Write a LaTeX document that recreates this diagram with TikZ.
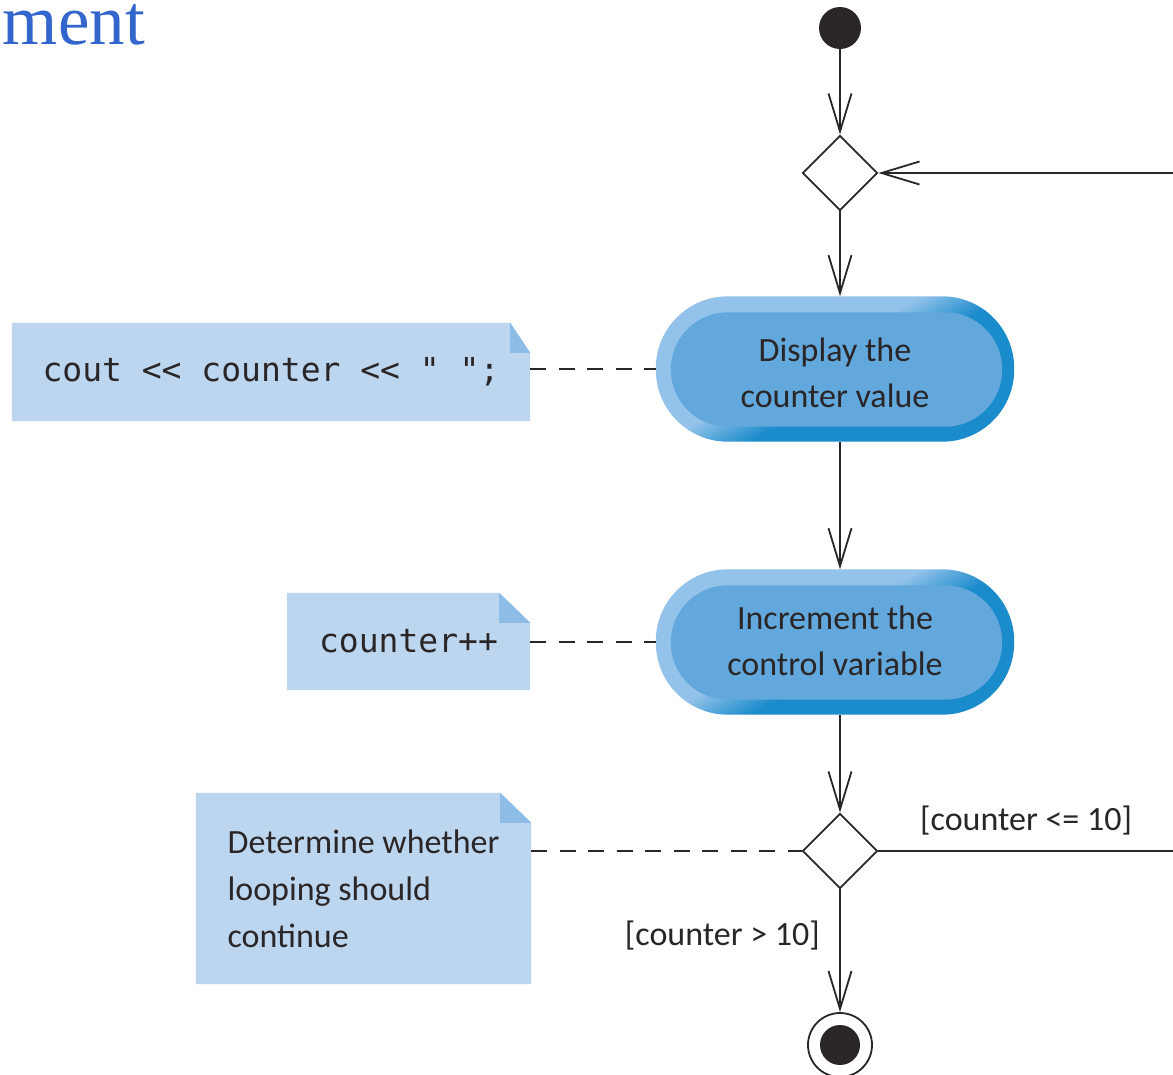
\documentclass[tikz,border=0pt]{standalone}
\usepackage{fontspec}
\setsansfont{Carlito}
\setmonofont{DejaVu Sans Mono}
\newfontfamily\headfont{Liberation Serif}
\usetikzlibrary{arrows.meta,shapes.geometric}

\definecolor{inkcol}{HTML}{2A2627}
\definecolor{notefill}{HTML}{BCD6EF}
\definecolor{notefold}{HTML}{8DBDE7}
\definecolor{pillfill}{HTML}{62A8DC}
\definecolor{ringlight}{HTML}{93C3EA}
\definecolor{ringdark}{HTML}{1A8BCB}
\definecolor{headblue}{HTML}{3366CC}

% two-tone rim of the activity pills: light upper left, dark lower right
\pgfdeclarehorizontalshading{ringshade}{100bp}{color(0bp)=(ringlight); color(47bp)=(ringlight); color(53bp)=(ringdark); color(100bp)=(ringdark)}

\pgfdeclarelayer{background}
\pgfsetlayers{background,main}

\tikzset{
  flow/.style={draw=inkcol, line width=1.8pt,
    -{Straight Barb[length=38pt,width=23pt,line width=1.8pt]}},
  notelink/.style={draw=inkcol, line width=1.8pt, dash pattern=on 16pt off 12.5pt},
  merge/.style={diamond, draw=inkcol, line width=1.8pt, fill=white,
    minimum width=75pt, minimum height=75pt, inner sep=0pt},
  initial/.style={circle, fill=inkcol, minimum size=42pt, inner sep=0pt},
  final/.style={circle, draw=inkcol, line width=1.8pt, minimum size=64pt, inner sep=0pt},
  enddot/.style={circle, fill=inkcol, minimum size=40pt, inner sep=0pt},
  activity/.style={minimum width=358pt, minimum height=145pt, inner sep=0pt},
  activitytext/.style={inner sep=0pt, align=center, text=inkcol,
    font=\sffamily\fontsize{34}{46}\selectfont},
  note/.style={inner sep=0pt, text=inkcol},
  guard/.style={text=inkcol, font=\sffamily\fontsize{34}{40}\selectfont, inner sep=0pt},
}

% light-blue comment box with a folded top-right corner
\newcommand\notebg[3]{%
  \begin{pgfonlayer}{background}
    \fill[notefill] (#1.south west) -- (#1.north west) -- ([xshift=-#2pt]#1.north east)
      -- ([yshift=-#3pt]#1.north east) -- (#1.south east) -- cycle;
    \fill[notefold] ([xshift=-#2pt]#1.north east) -- ([xshift=-#2pt,yshift=-#3pt]#1.north east)
      -- ([yshift=-#3pt]#1.north east) -- cycle;
  \end{pgfonlayer}}

% rounded activity body with its shaded rim
\newcommand\pillbg[1]{%
  \begin{pgfonlayer}{background}
    \begin{scope}
      \clip[rounded corners=72pt] (#1.south west) rectangle (#1.north east);
      \shade[shading=ringshade, shading angle=-60.6]
        ([shift={(-180pt,-180pt)}]#1.center) rectangle ([shift={(180pt,180pt)}]#1.center);
    \end{scope}
    \fill[pillfill, rounded corners=57pt]
      ([shift={(15pt,15pt)}]#1.south west) rectangle ([shift={(-12pt,-16pt)}]#1.north east);
  \end{pgfonlayer}}

\begin{document}
\begin{tikzpicture}[x=1pt,y=-1pt]
  \useasboundingbox (0,0) rectangle (1173,1074);
  \begin{pgfonlayer}{background}
    \fill[white] (0,0) rectangle (1173,1074);
  \end{pgfonlayer}
  \clip (0,0) rectangle (1173,1074);

  \node[anchor=base east, text=headblue, inner sep=0pt,
        font=\headfont\fontsize{71}{76}\selectfont] (heading) at (145,44) {ment};

  % control flow
  \node[initial] (start) at (840,28) {};
  \node[merge] (m1) at (840,173) {};
  \node[activity] (a1) at (835,369) {};
  \pillbg{a1}
  \node[activitytext] (a1label) at ([yshift=-4pt]a1.center) {Display the\\counter value};
  \node[activity] (a2) at (835,642) {};
  \pillbg{a2}
  \node[activitytext] (a2label) at ([yshift=1pt]a2.center) {Increment the\\control variable};
  \node[merge] (m2) at (840,851) {};
  \node[final] (end) at (840,1045) {};
  \node[enddot] (endcore) at (end.center) {};

  \draw[flow] (start) -- (m1);
  \draw[flow] (m1) -- (m1 |- a1.north);
  \draw[flow] (m1 |- a1.south) -- (m1 |- a2.north);
  \draw[flow] (m1 |- a2.south) -- (m2);
  \draw[flow] (m2) -- (end);

  \coordinate (loopx) at (1195,0);
  \draw[flow] (m2.east) -- (m2.east -| loopx) -- (m1.east -| loopx) -- (m1.east);

  \node[guard, anchor=base west] (gcont) at (920,830) {[counter <= 10]};
  \node[guard, anchor=base east] (gexit) at (820,945) {[counter > 10]};

  % comments
  \node[note, minimum width=518pt, minimum height=98pt,
        font=\ttfamily\fontsize{33}{40}\selectfont] (n1) at (271,372) {cout << counter << " ";};
  \notebg{n1}{20}{30}
  \node[note, minimum width=243pt, minimum height=97pt,
        font=\ttfamily\fontsize{33}{40}\selectfont] (n2) at (408.5,641.5) {counter++};
  \notebg{n2}{31}{30}
  \node[note, minimum width=335pt, minimum height=191pt, align=left,
        font=\sffamily\fontsize{34}{47}\selectfont] (n3) at (363.5,888.5)
        {Determine whether\\looping should\\continue};
  \notebg{n3}{31}{30}

  \draw[notelink] (n1.east |- a1.west) -- (a1.west);
  \draw[notelink] (n2.east |- a2.west) -- (a2.west);
  \draw[notelink] (n3.east |- m2.west) -- (m2.west);
\end{tikzpicture}
\end{document}
